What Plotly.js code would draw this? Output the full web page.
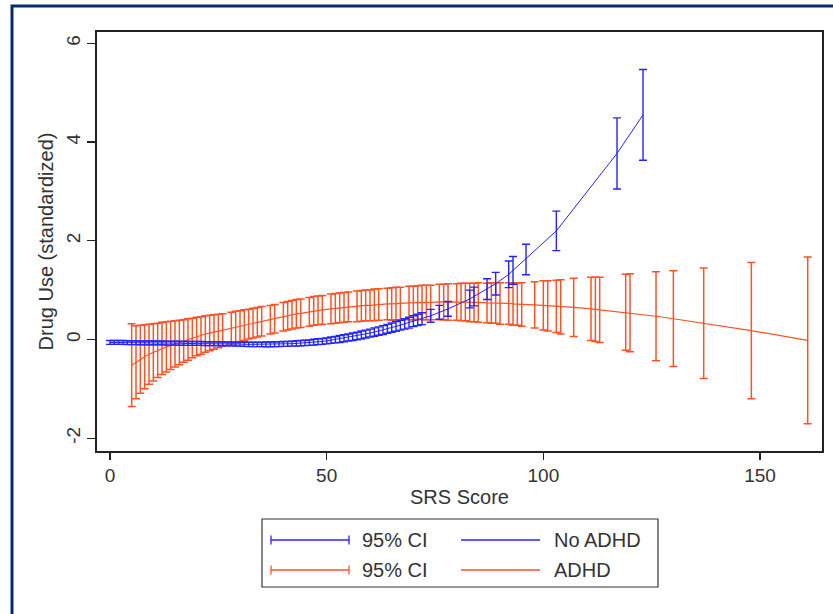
<!DOCTYPE html>
<html>
<head>
<meta charset="utf-8">
<script src="https://cdn.plot.ly/plotly-3.0.1.min.js"></script>
<style>html,body{margin:0;padding:0;background:#fff;}#chart{width:833px;height:614px;}</style>
</head>
<body>
<div id="chart"></div>
<script>
// ---- Data ----
// No ADHD: SRS score, predicted drug use, 95% CI half-width
var noAdhdX = [0,1,2,3,4,5,6,7,8,9,10,11,12,13,14,15,16,17,18,19,20,21,22,23,24,25,26,27,28,29,30,31,32,33,34,35,36,37,38,39,40,41,42,43,44,45,46,47,48,49,50,51,52,53,54,55,56,57,58,59,60,61,62,63,64,65,66,67,68,69,70,71,72,74,76,78,83,84,87,89,92,93,96,103,117,123];
var noAdhdY = [-0.06,-0.06,-0.06,-0.06,-0.065,-0.065,-0.065,-0.07,-0.07,-0.07,-0.07,-0.07,-0.07,-0.075,-0.075,-0.075,-0.075,-0.08,-0.08,-0.08,-0.08,-0.08,-0.085,-0.085,-0.085,-0.085,-0.09,-0.09,-0.09,-0.095,-0.095,-0.095,-0.10,-0.10,-0.10,-0.10,-0.10,-0.10,-0.095,-0.095,-0.09,-0.09,-0.085,-0.08,-0.075,-0.07,-0.065,-0.055,-0.045,-0.04,-0.03,-0.015,-0.005,0.01,0.025,0.04,0.055,0.07,0.09,0.11,0.13,0.15,0.17,0.19,0.215,0.24,0.265,0.29,0.315,0.34,0.37,0.395,0.42,0.48,0.55,0.62,0.82,0.87,1.02,1.13,1.32,1.40,1.62,2.20,3.77,4.55];
var noAdhdCI = [0.04,0.04,0.04,0.04,0.04,0.04,0.04,0.04,0.04,0.04,0.04,0.04,0.04,0.04,0.04,0.04,0.04,0.04,0.04,0.04,0.04,0.04,0.04,0.04,0.04,0.04,0.04,0.04,0.04,0.04,0.04,0.045,0.045,0.045,0.045,0.045,0.05,0.05,0.05,0.05,0.05,0.05,0.05,0.055,0.055,0.055,0.055,0.06,0.06,0.06,0.06,0.065,0.065,0.07,0.07,0.07,0.075,0.075,0.08,0.08,0.08,0.085,0.085,0.09,0.09,0.095,0.10,0.10,0.105,0.11,0.11,0.115,0.12,0.13,0.14,0.15,0.18,0.19,0.21,0.23,0.27,0.28,0.31,0.40,0.72,0.92];

// ADHD: SRS score, predicted drug use, 95% CI half-width
var adhdX = [5,6,7,8,9,10,11,12,13,14,15,16,17,18,19,20,21,22,23,24,25,26,28,29,30,31,32,33,34,35,37,38,40,41,42,43,44,46,47,48,49,51,52,53,54,55,57,58,59,60,61,62,64,65,66,67,69,70,71,72,73,74,76,77,78,80,81,82,83,84,85,87,88,89,90,92,93,94,95,98,100,101,103,104,107,111,112,113,119,120,126,130,137,148,161];
var adhdY = [-0.52,-0.46,-0.40,-0.35,-0.30,-0.26,-0.22,-0.18,-0.15,-0.12,-0.09,-0.06,-0.03,0.00,0.03,0.06,0.08,0.11,0.13,0.15,0.17,0.19,0.23,0.25,0.27,0.29,0.31,0.33,0.35,0.37,0.40,0.42,0.46,0.48,0.50,0.52,0.53,0.56,0.58,0.59,0.60,0.62,0.63,0.64,0.65,0.66,0.67,0.68,0.69,0.69,0.70,0.71,0.72,0.72,0.73,0.73,0.74,0.74,0.75,0.75,0.75,0.75,0.76,0.76,0.76,0.76,0.76,0.76,0.75,0.75,0.75,0.74,0.74,0.74,0.73,0.73,0.72,0.72,0.71,0.70,0.69,0.68,0.67,0.66,0.65,0.62,0.61,0.60,0.55,0.54,0.47,0.42,0.33,0.18,-0.02];
var adhdCI = [0.84,0.74,0.69,0.65,0.61,0.58,0.55,0.53,0.51,0.49,0.47,0.45,0.43,0.42,0.40,0.39,0.38,0.37,0.36,0.35,0.34,0.33,0.32,0.32,0.31,0.31,0.30,0.30,0.30,0.30,0.29,0.29,0.29,0.29,0.29,0.29,0.29,0.29,0.29,0.29,0.29,0.30,0.30,0.30,0.30,0.30,0.31,0.31,0.31,0.31,0.32,0.32,0.32,0.33,0.33,0.33,0.34,0.34,0.34,0.35,0.35,0.35,0.36,0.36,0.37,0.37,0.38,0.38,0.39,0.39,0.40,0.40,0.41,0.41,0.42,0.42,0.43,0.43,0.44,0.47,0.50,0.51,0.53,0.55,0.59,0.64,0.65,0.66,0.77,0.79,0.90,0.97,1.12,1.38,1.69];

var xTicks = [0, 50, 100, 150];
var yTicks = [-2, 0, 2, 4, 6];
var legendLabels = ["95% CI", "No ADHD", "95% CI", "ADHD"];

// ---- Styling ----
var BLUE = "#2424ff";
var ORANGE = "#ff5224";
var FONT = "Liberation Sans, Arial, sans-serif";

var W = 833, H = 614;
var M = {l: 97, r: 11, t: 32, b: 163};
var PW = W - M.l - M.r, PH = H - M.t - M.b;
function px(x) { return (x - M.l) / PW; }
function py(y) { return (H - M.b - y) / PH; }

var traces = [
  {
    x: adhdX, y: adhdY, type: "scatter", mode: "lines", name: "ADHD",
    line: {color: ORANGE, width: 1.2},
    error_y: {type: "data", array: adhdCI, visible: true, color: ORANGE, thickness: 1.5, width: 4},
    hoverinfo: "skip", showlegend: false
  },
  {
    x: noAdhdX, y: noAdhdY, type: "scatter", mode: "lines", name: "No ADHD",
    line: {color: BLUE, width: 1},
    error_y: {type: "data", array: noAdhdCI, visible: true, color: BLUE, thickness: 1.4, width: 4},
    hoverinfo: "skip", showlegend: false
  }
];

// Legend drawn as layout shapes + annotations (Stata style)
var shapes = [
  // outer navy frame
  {type: "rect", xref: "paper", yref: "paper", x0: px(12), x1: px(845), y0: py(625), y1: py(6),
   line: {color: "#0b2a6b", width: 3}, fillcolor: "rgba(0,0,0,0)", layer: "below"},
  // legend box
  {type: "rect", xref: "paper", yref: "paper", x0: px(262), x1: px(658), y0: py(587), y1: py(519),
   line: {color: "#333", width: 1.2}, fillcolor: "rgba(0,0,0,0)"}
];
function ciSymbol(y, col) {
  shapes.push({type: "line", xref: "paper", yref: "paper", x0: px(271), x1: px(349), y0: py(y), y1: py(y), line: {color: col, width: 1.3}});
  shapes.push({type: "line", xref: "paper", yref: "paper", x0: px(271), x1: px(271), y0: py(y - 4.5), y1: py(y + 4.5), line: {color: col, width: 1.3}});
  shapes.push({type: "line", xref: "paper", yref: "paper", x0: px(349), x1: px(349), y0: py(y - 4.5), y1: py(y + 4.5), line: {color: col, width: 1.3}});
}
function lineSymbol(y, col) {
  shapes.push({type: "line", xref: "paper", yref: "paper", x0: px(461), x1: px(540), y0: py(y), y1: py(y), line: {color: col, width: 1.3}});
}
ciSymbol(540, BLUE); lineSymbol(540, BLUE);
ciSymbol(570, ORANGE); lineSymbol(570, ORANGE);

function legText(t, x, y) {
  return {text: t, xref: "paper", yref: "paper", x: px(x), y: py(y), xanchor: "left", yanchor: "middle",
          showarrow: false, font: {family: FONT, size: 20, color: "#333"}};
}
var annotations = [
  legText(legendLabels[0], 360, 540), legText(legendLabels[1], 552, 540),
  legText(legendLabels[2], 360, 570), legText(legendLabels[3], 552, 570)
];

var layout = {
  width: W, height: H,
  margin: {l: M.l, r: M.r, t: M.t, b: M.b, pad: 0},
  paper_bgcolor: "#ffffff", plot_bgcolor: "#ffffff",
  showlegend: false,
  font: {family: FONT, color: "#333"},
  xaxis: {
    range: [-3, 164.3], tickmode: "array", tickvals: xTicks, ticktext: xTicks.map(String),
    ticks: "outside", ticklen: 7, tickwidth: 1.3, tickcolor: "#222",
    showline: true, linecolor: "#222", linewidth: 1.6, mirror: true,
    showgrid: false, zeroline: false,
    tickfont: {family: FONT, size: 19, color: "#333"},
    title: {text: "SRS Score", font: {family: FONT, size: 20, color: "#333"}, standoff: 4},
    automargin: false
  },
  yaxis: {
    range: [-2.26, 6.23], tickmode: "array", tickvals: yTicks, ticktext: yTicks.map(String),
    ticks: "outside", ticklen: 8, tickwidth: 1.3, tickcolor: "#222", tickangle: -90,
    showline: true, linecolor: "#222", linewidth: 1.6, mirror: true,
    showgrid: false, zeroline: false,
    tickfont: {family: FONT, size: 19, color: "#333"},
    title: {text: "Drug Use (standardized)", font: {family: FONT, size: 20, color: "#333"}, standoff: 4},
    automargin: false
  },
  shapes: shapes,
  annotations: annotations
};

Plotly.newPlot("chart", traces, layout, {staticPlot: true, displayModeBar: false});
</script>
</body>
</html>
